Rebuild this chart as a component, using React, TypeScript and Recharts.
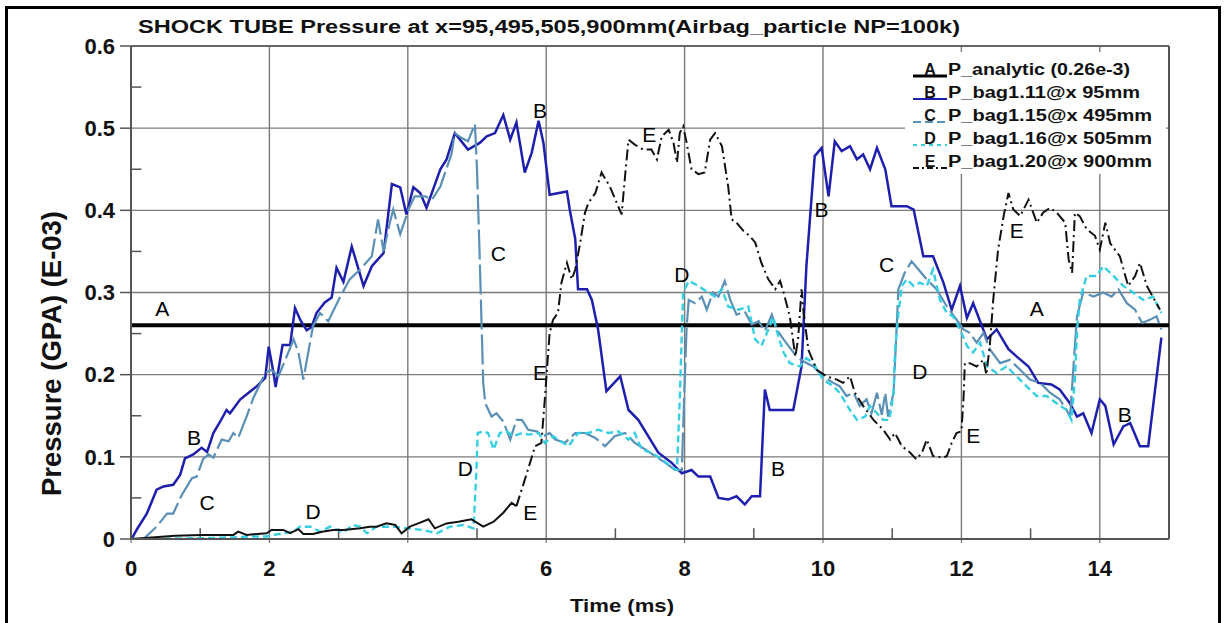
import React from "react"
import {
  ComposedChart,
  Line,
  Scatter,
  XAxis,
  YAxis,
  CartesianGrid,
  ReferenceLine,
} from "recharts"

const FONT = "'Liberation Sans', Arial, Helvetica, sans-serif"

// axis ticks
const timeTicks = [0, 2, 4, 6, 8, 10, 12, 14]
const pressureTicks = [0, 0.1, 0.2, 0.3, 0.4, 0.5, 0.6]
const minorTimes = [1, 3, 5, 7, 9, 11, 13]
const minorPressures = [0.05, 0.15, 0.25, 0.35, 0.45, 0.55]

// A: analytic pressure
const analyticTime = [0, 15]
const analyticP = [0.26, 0.26]

// B: bag1.11 @ x 95mm
const bag111Time = [
  0.01, 0.08, 0.23, 0.37, 0.47, 0.61, 0.71, 0.78, 0.9, 1.02, 1.1, 1.19, 1.29, 1.38, 1.43, 1.58, 1.7, 1.82,
  1.94, 1.99, 2.06, 2.09, 2.19, 2.3, 2.37, 2.45, 2.54, 2.61, 2.68, 2.8, 2.9, 2.97, 3.07, 3.19, 3.36, 3.48,
  3.65, 3.77, 3.89, 3.98, 4.08, 4.18, 4.27, 4.47, 4.56, 4.68, 4.87, 5.04, 5.14, 5.26, 5.38, 5.48, 5.57,
  5.69, 5.79, 5.89, 5.96, 6.05, 6.3, 6.34, 6.42, 6.46, 6.59, 6.66, 6.75, 6.87, 7.07, 7.19, 7.33, 7.62,
  7.81, 7.96, 8.1, 8.2, 8.37, 8.49, 8.63, 8.75, 8.87, 8.97, 9.09, 9.16, 9.23, 9.57, 9.69, 9.76, 9.88,
  9.98, 10.08, 10.17, 10.27, 10.39, 10.49, 10.58, 10.68, 10.78, 10.9, 10.99, 11.21, 11.31, 11.45, 11.59,
  11.74, 11.86, 11.98, 12.08, 12.17, 12.37, 12.51, 12.68, 12.8, 12.97, 13.11, 13.3, 13.42, 13.57, 13.67,
  13.76, 13.88, 14.0, 14.08, 14.2, 14.34, 14.44, 14.58, 14.7, 14.89,
]
const bag111P = [
  0, 0.011, 0.031, 0.06, 0.064, 0.066, 0.078, 0.098, 0.103, 0.111, 0.106, 0.129, 0.143, 0.157, 0.153, 0.17,
  0.178, 0.186, 0.196, 0.234, 0.202, 0.185, 0.236, 0.236, 0.281, 0.266, 0.254, 0.258, 0.275, 0.288, 0.294,
  0.33, 0.313, 0.356, 0.308, 0.332, 0.348, 0.432, 0.428, 0.395, 0.428, 0.421, 0.403, 0.45, 0.462, 0.494,
  0.474, 0.482, 0.49, 0.494, 0.516, 0.486, 0.507, 0.446, 0.47, 0.509, 0.482, 0.419, 0.423, 0.401, 0.365,
  0.304, 0.304, 0.291, 0.255, 0.18, 0.198, 0.157, 0.145, 0.105, 0.093, 0.08, 0.084, 0.076, 0.076, 0.05,
  0.048, 0.052, 0.042, 0.052, 0.052, 0.182, 0.157, 0.157, 0.21, 0.332, 0.466, 0.476, 0.417, 0.484, 0.472,
  0.478, 0.462, 0.468, 0.45, 0.476, 0.45, 0.405, 0.405, 0.401, 0.344, 0.344, 0.312, 0.279, 0.308, 0.269,
  0.287, 0.243, 0.255, 0.231, 0.222, 0.21, 0.19, 0.188, 0.182, 0.165, 0.149, 0.153, 0.129, 0.17, 0.162,
  0.115, 0.137, 0.141, 0.113, 0.113, 0.245,
]

// C: bag1.15 @ x 495mm
const bag115Time = [
  0, 0.18, 0.37, 0.52, 0.61, 0.73, 0.88, 0.95, 1.04, 1.12, 1.19, 1.31, 1.41, 1.48, 1.55, 1.67, 1.77, 1.94,
  2.03, 2.13, 2.23, 2.35, 2.42, 2.49, 2.63, 2.73, 2.85, 3.0, 3.16, 3.31, 3.48, 3.57, 3.65, 3.74, 3.79,
  3.89, 4.01, 4.1, 4.25, 4.35, 4.47, 4.63, 4.68, 4.78, 4.87, 4.97, 5.0, 5.04, 5.07, 5.09, 5.12, 5.21,
  5.28, 5.38, 5.48, 5.57, 5.65, 5.74, 5.86, 5.96, 6.05, 6.13, 6.27, 6.42, 6.56, 6.71, 6.85, 6.99, 7.14,
  7.28, 7.43, 7.57, 7.72, 7.86, 7.96, 8.0, 8.03, 8.06, 8.15, 8.25, 8.32, 8.41, 8.49, 8.58, 8.66, 8.75,
  8.87, 8.97, 9.07, 9.16, 9.26, 9.33, 9.43, 9.52, 9.62, 9.72, 9.86, 10.0, 10.15, 10.24, 10.34, 10.44,
  10.53, 10.63, 10.7, 10.78, 10.85, 10.9, 10.94, 11.02, 11.09, 11.18, 11.28, 11.38, 11.5, 11.64, 11.79,
  11.93, 12.03, 12.12, 12.22, 12.32, 12.41, 12.56, 12.7, 12.85, 12.99, 13.14, 13.28, 13.42, 13.52, 13.57,
  13.62, 13.67, 13.76, 13.91, 14.05, 14.17, 14.27, 14.39, 14.51, 14.61, 14.73, 14.82, 14.89,
]
const bag115P = [
  0, 0, 0.015, 0.031, 0.031, 0.053, 0.074, 0.076, 0.097, 0.103, 0.099, 0.121, 0.119, 0.129, 0.123, 0.149,
  0.172, 0.202, 0.206, 0.198, 0.218, 0.243, 0.227, 0.194, 0.259, 0.275, 0.265, 0.291, 0.316, 0.328, 0.344,
  0.389, 0.35, 0.385, 0.401, 0.371, 0.401, 0.417, 0.417, 0.413, 0.429, 0.468, 0.494, 0.488, 0.484, 0.505,
  0.45, 0.34, 0.25, 0.19, 0.165, 0.149, 0.153, 0.143, 0.121, 0.145, 0.145, 0.133, 0.131, 0.125, 0.129,
  0.121, 0.117, 0.129, 0.129, 0.123, 0.113, 0.125, 0.129, 0.117, 0.109, 0.101, 0.093, 0.084, 0.084, 0.19,
  0.259, 0.291, 0.287, 0.295, 0.279, 0.3, 0.295, 0.314, 0.291, 0.273, 0.277, 0.261, 0.265, 0.253, 0.273,
  0.255, 0.243, 0.233, 0.222, 0.216, 0.21, 0.198, 0.19, 0.186, 0.174, 0.178, 0.162, 0.17, 0.153, 0.178,
  0.151, 0.178, 0.149, 0.178, 0.304, 0.324, 0.338, 0.328, 0.316, 0.304, 0.283, 0.267, 0.255, 0.251, 0.239,
  0.251, 0.231, 0.214, 0.218, 0.206, 0.194, 0.19, 0.178, 0.17, 0.157, 0.149, 0.21, 0.271, 0.3, 0.295, 0.3,
  0.295, 0.304, 0.287, 0.279, 0.263, 0.267, 0.271, 0.255,
]

// D: bag1.16 @ x 505mm
const bag116Time = [
  0, 1.0, 1.5, 1.72, 1.96, 2.06, 2.35, 2.44, 2.59, 2.73, 2.88, 3.07, 3.21, 3.31, 3.41, 3.55, 3.69, 3.79,
  4.0, 4.22, 4.42, 4.61, 4.8, 4.95, 4.99, 5.01, 5.09, 5.16, 5.24, 5.33, 5.43, 5.52, 5.65, 5.74, 5.89,
  5.98, 6.1, 6.32, 6.46, 6.61, 6.75, 6.9, 7.04, 7.19, 7.28, 7.38, 7.52, 7.67, 7.81, 7.89, 7.93, 7.96,
  7.98, 8.06, 8.2, 8.34, 8.44, 8.54, 8.63, 8.78, 8.92, 9.02, 9.11, 9.21, 9.28, 9.36, 9.43, 9.52, 9.67,
  9.76, 9.86, 10.0, 10.15, 10.24, 10.39, 10.49, 10.61, 10.68, 10.78, 10.87, 10.96, 11.02, 11.04, 11.09,
  11.14, 11.21, 11.31, 11.4, 11.5, 11.59, 11.69, 11.79, 11.88, 11.98, 12.08, 12.17, 12.27, 12.37, 12.51,
  12.65, 12.8, 12.94, 13.09, 13.23, 13.38, 13.52, 13.59, 13.64, 13.67, 13.71, 13.81, 13.95, 14.05, 14.2,
  14.34, 14.48, 14.63, 14.77, 14.89,
]
const bag116P = [
  0, 0.001, 0.002, 0.003, 0.003, 0.005, 0.009, 0.015, 0.015, 0.009, 0.015, 0.008, 0.017, 0.015, 0.007,
  0.015, 0.015, 0.015, 0.013, 0.011, 0.007, 0.015, 0.017, 0.013, 0.08, 0.129, 0.131, 0.129, 0.109, 0.129,
  0.131, 0.125, 0.129, 0.127, 0.129, 0.117, 0.125, 0.113, 0.129, 0.129, 0.133, 0.129, 0.131, 0.121, 0.129,
  0.109, 0.105, 0.097, 0.088, 0.084, 0.17, 0.251, 0.3, 0.314, 0.308, 0.3, 0.295, 0.304, 0.283, 0.279,
  0.283, 0.243, 0.235, 0.255, 0.27, 0.245, 0.227, 0.214, 0.21, 0.22, 0.214, 0.194, 0.186, 0.178, 0.157,
  0.145, 0.149, 0.162, 0.153, 0.145, 0.145, 0.178, 0.227, 0.275, 0.308, 0.316, 0.308, 0.312, 0.308, 0.328,
  0.291, 0.275, 0.271, 0.255, 0.235, 0.227, 0.239, 0.21, 0.202, 0.21, 0.198, 0.186, 0.174, 0.174, 0.165,
  0.157, 0.145, 0.194, 0.251, 0.291, 0.32, 0.32, 0.332, 0.32, 0.308, 0.3, 0.291, 0.295, 0.275,
]

// E: bag1.20 @ x 900mm
const bag120Time = [
  0, 0.64, 1.02, 1.48, 1.55, 1.67, 1.96, 2.03, 2.2, 2.3, 2.42, 2.49, 2.63, 2.78, 2.92, 3.07, 3.31, 3.45,
  3.55, 3.69, 3.82, 3.91, 4.03, 4.15, 4.3, 4.39, 4.56, 4.73, 4.92, 5.09, 5.24, 5.38, 5.5, 5.57, 5.72, 5.84,
  5.93, 5.98, 6.05, 6.1, 6.17, 6.22, 6.3, 6.37, 6.42, 6.49, 6.56, 6.61, 6.71, 6.8, 6.92, 7.02, 7.09, 7.14,
  7.19, 7.28, 7.4, 7.52, 7.6, 7.67, 7.77, 7.84, 7.89, 7.93, 7.98, 8.03, 8.1, 8.2, 8.29, 8.37, 8.44, 8.54,
  8.63, 8.68, 8.75, 8.85, 8.94, 9.02, 9.11, 9.21, 9.31, 9.38, 9.43, 9.52, 9.6, 9.64, 9.69, 9.72, 9.79,
  9.91, 10.05, 10.2, 10.29, 10.39, 10.46, 10.58, 10.73, 10.87, 10.97, 11.04, 11.14, 11.26, 11.35, 11.43,
  11.5, 11.59, 11.74, 11.79, 11.86, 11.93, 12.0, 12.03, 12.05, 12.12, 12.22, 12.32, 12.36, 12.41, 12.46,
  12.53, 12.61, 12.68, 12.75, 12.85, 12.97, 13.09, 13.18, 13.28, 13.38, 13.5, 13.55, 13.6, 13.64, 13.71,
  13.81, 13.93, 14.0, 14.08, 14.15, 14.29, 14.41, 14.51, 14.58, 14.68, 14.87,
]
const bag120P = [
  0, 0.004, 0.005, 0.005, 0.009, 0.005, 0.007, 0.011, 0.011, 0.007, 0.012, 0.006, 0.006, 0.009, 0.011,
  0.011, 0.013, 0.015, 0.015, 0.019, 0.017, 0.007, 0.015, 0.019, 0.024, 0.013, 0.019, 0.021, 0.024, 0.015,
  0.021, 0.032, 0.044, 0.04, 0.08, 0.113, 0.117, 0.17, 0.251, 0.267, 0.275, 0.312, 0.336, 0.316, 0.328,
  0.36, 0.397, 0.409, 0.421, 0.446, 0.429, 0.409, 0.395, 0.442, 0.486, 0.48, 0.474, 0.474, 0.462, 0.49,
  0.498, 0.482, 0.458, 0.494, 0.502, 0.482, 0.45, 0.444, 0.446, 0.486, 0.494, 0.478, 0.429, 0.389, 0.385,
  0.375, 0.369, 0.361, 0.336, 0.316, 0.304, 0.314, 0.3, 0.271, 0.222, 0.243, 0.304, 0.275, 0.23, 0.206,
  0.198, 0.194, 0.19, 0.198, 0.178, 0.162, 0.145, 0.133, 0.121, 0.129, 0.113, 0.105, 0.097, 0.105, 0.121,
  0.101, 0.099, 0.101, 0.117, 0.129, 0.131, 0.17, 0.214, 0.214, 0.21, 0.218, 0.2, 0.235, 0.291, 0.352,
  0.393, 0.421, 0.401, 0.393, 0.413, 0.385, 0.397, 0.403, 0.397, 0.385, 0.34, 0.324, 0.397, 0.393, 0.377,
  0.369, 0.352, 0.385, 0.36, 0.344, 0.308, 0.32, 0.336, 0.308, 0.279,
]

// letters written next to the curves
const curveLetters = ["A", "A", "B", "B", "B", "B", "B", "C", "C", "C", "D", "D", "D", "D", "E", "E", "E", "E", "E"]
const letterTime = [0.45, 13.09, 0.91, 5.91, 9.98, 9.35, 14.36, 1.1, 5.31, 10.92, 2.63, 4.83, 7.96, 11.4, 5.77, 5.91, 7.49, 12.8, 12.17]
const letterP = [0.281, 0.281, 0.124, 0.521, 0.401, 0.086, 0.151, 0.045, 0.348, 0.334, 0.033, 0.086, 0.322, 0.204, 0.032, 0.203, 0.492, 0.375, 0.126]

const legendLetters = ["A", "B", "C", "D", "E"]
const legendNames = [
  "P_analytic (0.26e-3)",
  "P_bag1.11@x 95mm",
  "P_bag1.15@x 495mm",
  "P_bag1.16@x 505mm",
  "P_bag1.20@x 900mm",
]

const zip = (t: number[], p: number[]) => t.map((v, i) => ({ t: v, p: p[i] }))

const BLUE = "#1f1fae"
const STEEL = "#5a8fb6"
const CYAN = "#36cfe2"

// the slow pre-shock part of E is drawn with short segments, so it reads as solid
const eSplit = bag120Time.findIndex((t) => t >= 5.57)
const bag120 = zip(bag120Time, bag120P)

const series = [
  { key: "A", data: zip(analyticTime, analyticP), color: "#000000", width: 4, dash: undefined },
  { key: "B", data: zip(bag111Time, bag111P), color: BLUE, width: 2.5, dash: undefined },
  { key: "C", data: zip(bag115Time, bag115P), color: STEEL, width: 2.2, dash: "30 5" },
  { key: "D", data: zip(bag116Time, bag116P), color: CYAN, width: 2.4, dash: "7 4" },
  { key: "E0", data: bag120.slice(0, eSplit + 1), color: "#111111", width: 2, dash: undefined },
  { key: "E", data: bag120.slice(eSplit), color: "#111111", width: 2, dash: "11 4 2 4" },
]

const legendStyles = [
  { color: "#000", width: 3, dash: undefined },
  { color: BLUE, width: 2, dash: undefined },
  { color: STEEL, width: 2, dash: "8 4" },
  { color: CYAN, width: 2, dash: "4 4" },
  { color: "#111", width: 2, dash: "6 3 2 3" },
]

const letterData = curveLetters.map((letter, i) => ({ t: letterTime[i], p: letterP[i], letter }))

const legendWidths = [182, 192, 204, 204, 204]

function LetterMark(props: any) {
  const { cx, cy, payload } = props
  return (
    <text x={cx} y={cy} dy="0.36em" textAnchor="middle" fontSize={21} fontFamily={FONT} fill="#000">
      {payload.letter}
    </text>
  )
}

function YLabel(props: any) {
  const { viewBox } = props
  const cy = viewBox.y + viewBox.height / 2 + 61
  return (
    <text
      x={61}
      y={cy}
      transform={`rotate(-90 61 ${cy})`}
      textAnchor="middle"
      fontSize={27}
      fontWeight="bold"
      fontFamily={FONT}
      fill="#111"
      textLength={285}
      lengthAdjust="spacingAndGlyphs"
    >
      Pressure (GPA) (E-03)
    </text>
  )
}

function XLabel() {
  return (
    <text
      x={622}
      y={612}
      textAnchor="middle"
      fontSize={19}
      fontWeight="bold"
      fontFamily={FONT}
      fill="#111"
      textLength={104}
      lengthAdjust="spacingAndGlyphs"
    >
      Time (ms)
    </text>
  )
}

function Overlay() {
  return (
    <svg width={1227} height={623} style={{ position: "absolute", left: 0, top: 0, pointerEvents: "none" }}>
      <rect x={6.5} y={7.5} width={1213} height={640} fill="none" stroke="#000" strokeWidth={3} />
      <text
        x={138}
        y={33}
        fontSize={18}
        fontWeight="bold"
        fontFamily={FONT}
        fill="#111"
        textLength={822}
        lengthAdjust="spacingAndGlyphs"
      >
        SHOCK TUBE Pressure at x=95,495,505,900mm(Airbag_particle NP=100k)
      </text>
      <rect x={905} y={52} width={261} height={122} fill="#fff" />
      {legendLetters.map((letter, i) => {
        const y = 75 + i * 23
        const s = legendStyles[i]
        return (
          <g key={letter}>
            <line
              x1={913}
              x2={947}
              y1={y + 1}
              y2={y + 1}
              stroke={s.color}
              strokeWidth={s.width}
              strokeDasharray={s.dash}
            />
            <text x={930} y={y} textAnchor="middle" fontSize={16} fontWeight="bold" fontFamily={FONT} fill="#111">
              {letter}
            </text>
            <text
              x={948}
              y={y}
              fontSize={16}
              fontWeight="bold"
              fontFamily={FONT}
              fill="#111"
              textLength={legendWidths[i]}
              lengthAdjust="spacingAndGlyphs"
            >
              {legendNames[i]}
            </text>
          </g>
        )
      })}
    </svg>
  )
}

export default function App() {
  const tickStyle = { fontSize: 22, fontWeight: "bold", fill: "#111", fontFamily: FONT }
  return (
    <div style={{ position: "absolute", left: 0, top: 0, width: 1227, height: 623, background: "#fff" }}>
      <ComposedChart width={1227} height={623} margin={{ top: 46, right: 58, bottom: 44, left: 71 }}>
        <CartesianGrid stroke="#7a7a7a" strokeWidth={1.4} />
        <XAxis
          type="number"
          dataKey="t"
          domain={[0, 15]}
          ticks={timeTicks}
          allowDataOverflow
          height={40}
          tick={tickStyle}
          tickSize={4}
          tickMargin={17}
          axisLine={{ stroke: "#555", strokeWidth: 2 }}
          tickLine={{ stroke: "#555" }}
          label={<XLabel />}
        />
        <YAxis
          type="number"
          dataKey="p"
          domain={[0, 0.6]}
          ticks={pressureTicks}
          allowDataOverflow
          width={60}
          tick={tickStyle}
          tickSize={11}
          tickMargin={5}
          tickFormatter={(v: number) => (v === 0 ? "0" : v.toFixed(1))}
          axisLine={{ stroke: "#555", strokeWidth: 2 }}
          tickLine={{ stroke: "#555", strokeWidth: 1.5 }}
          label={<YLabel />}
        />
        <ReferenceLine x={15} stroke="#555" strokeWidth={2} />
        <ReferenceLine y={0.6} stroke="#555" strokeWidth={1.5} />
        {minorPressures.map((p) => (
          <ReferenceLine
            key={`mp${p}`}
            segment={[{ x: 0, y: p }, { x: 0.15, y: p }]}
            stroke="#555"
            strokeWidth={1.5}
          />
        ))}
        {minorTimes.map((t) => (
          <ReferenceLine
            key={`mt${t}`}
            segment={[{ x: t, y: 0 }, { x: t, y: 0.013 }]}
            stroke="#555"
            strokeWidth={1.5}
          />
        ))}
        {series.map((s) => (
          <Line
            key={s.key}
            data={s.data}
            dataKey="p"
            type="linear"
            stroke={s.color}
            strokeWidth={s.width}
            strokeDasharray={s.dash}
            dot={false}
            activeDot={false}
            isAnimationActive={false}
          />
        ))}
        <Scatter data={letterData} dataKey="p" shape={<LetterMark />} isAnimationActive={false} />
      </ComposedChart>
      <Overlay />
    </div>
  )
}
